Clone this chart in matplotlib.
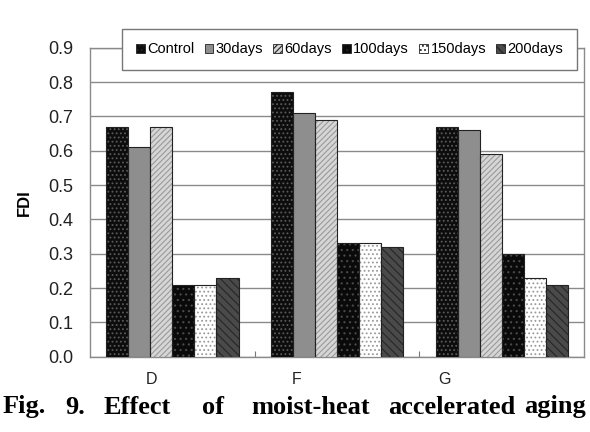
import numpy as np
import matplotlib
matplotlib.use("Agg")
import matplotlib.pyplot as plt
from matplotlib.patches import Patch

plt.rcParams["font.family"] = ["Liberation Sans", "DejaVu Sans"]
plt.rcParams["hatch.linewidth"] = 0.8

grupos = ["D", "F", "G"]
series = ["Control", "30days", "60days", "100days", "150days", "200days"]
control = [0.67, 0.77, 0.67]
d30 = [0.61, 0.71, 0.66]
d60 = [0.67, 0.69, 0.59]
d100 = [0.21, 0.33, 0.30]
d150 = [0.21, 0.33, 0.23]
d200 = [0.23, 0.32, 0.21]
valores = [control, d30, d60, d100, d150, d200]
y_ticks = [0.0, 0.1, 0.2, 0.3, 0.4, 0.5, 0.6, 0.7, 0.8, 0.9]

# (relleno, color del patron, patron)
estilos = [
    ("#0d0d0d", "#5a5a5a", "...."),
    ("#8e8e8e", "#8e8e8e", None),
    ("#d6d6d6", "#9a9a9a", "//////"),
    ("#0a0a0a", "#4a4a4a", "..."),
    ("#ffffff", "#9a9a9a", "...."),
    ("#4a4a4a", "#262626", "\\\\\\\\"),
]

fig = plt.figure(figsize=(5.9, 4.32), dpi=100)
ax = fig.add_axes([0.1525, 0.1743, 0.8375, 0.7153])

x = np.arange(len(grupos))
ancho = 0.134
for i, (vals, (cara, patron_c, patron)) in enumerate(zip(valores, estilos)):
    pos = x + (i - 2.5) * ancho
    ax.bar(pos, vals, ancho, color=cara, edgecolor=patron_c, hatch=patron,
           linewidth=0, zorder=3)
    ax.bar(pos, vals, ancho, facecolor="none", edgecolor="#222222",
           linewidth=0.8, zorder=4)

ax.set_xlim(-0.5, 2.5)
ax.set_ylim(0, 0.9)
ax.set_yticks(y_ticks)
ax.set_yticklabels([f"{v:.1f}" for v in y_ticks], fontsize=13, color="#222222")
ax.yaxis.grid(True, color="#8a8a8a", linewidth=1.0, zorder=0)
ax.tick_params(axis="y", length=0, pad=12)
for s in ax.spines.values():
    s.set_color("#8a8a8a")
    s.set_linewidth(1.0)

ax.set_xticks([0.5, 1.5])
ax.set_xticklabels([])
ax.tick_params(axis="x", direction="in", length=4, color="#777777")
# etiquetas de categoria (en la figura original quedan algo desplazadas)
pos_etiq = [-0.124, 0.757, 1.655]
for p, g in zip(pos_etiq, grupos):
    ax.text(p, -0.075, g, ha="center", va="center", fontsize=11.5,
            color="#222222", transform=ax.get_xaxis_transform())

ax.set_ylabel("FDI", fontsize=12, fontweight="bold", labelpad=12)

handles = [Patch(facecolor=c, edgecolor="#222222", hatch=h, linewidth=0.6)
           for c, hc, h in estilos]
leg = fig.legend(handles, series, ncol=6, loc="center",
                 bbox_to_anchor=(0.207, 0.836, 0.771, 0.099), mode="expand",
                 fontsize=10.5, handlelength=0.6, handleheight=0.6,
                 handletextpad=0.15, columnspacing=0.5, borderaxespad=0,
                 borderpad=0.95, fancybox=False, framealpha=1,
                 edgecolor="#777777")
leg.get_frame().set_linewidth(1.0)

# pie de figura (texto justificado)
palabras = ["Fig.", "9.", "Effect", "of", "moist-heat", "accelerated"]
xs = [3, 65, 104, 202, 251, 388]
for w, px in zip(palabras, xs):
    fig.text(px / 590, 1 - 407 / 432, w, ha="left", va="center",
             fontsize=19, fontweight="bold", family="Liberation Serif")
fig.text(586 / 590, 1 - 407 / 432, "aging", ha="right", va="center",
         fontsize=19, fontweight="bold", family="Liberation Serif")

fig.savefig("out.png", dpi=100)
